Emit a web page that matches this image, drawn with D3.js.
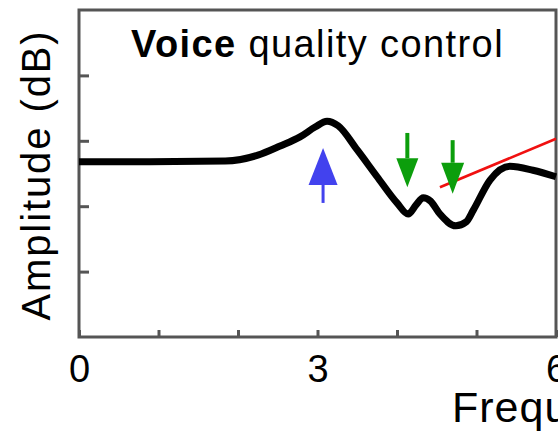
<!DOCTYPE html>
<html><head><meta charset="utf-8">
<script src="https://cdn.jsdelivr.net/npm/d3@7"></script>
<style>
html,body{margin:0;padding:0;background:#fff;overflow:hidden;}
svg{display:block;font-family:"Liberation Sans",Arial,Helvetica,sans-serif;}
</style></head>
<body><svg id="chart" width="558" height="433"></svg>
<script>
// ---- data ----
const freq = [0, 0.89, 1.84, 2.25, 2.53, 2.78, 2.97, 3.12, 3.26, 3.50, 3.75, 4.00, 4.14, 4.24, 4.33, 4.42, 4.54, 4.74, 4.87, 4.96, 5.17, 5.42, 5.71, 6.00];
const amp  = [2.68, 2.68, 2.69, 2.78, 2.92, 3.06, 3.21, 3.30, 3.23, 2.86, 2.45, 2.05, 1.88, 2.02, 2.13, 2.08, 1.88, 1.70, 1.76, 1.94, 2.40, 2.61, 2.55, 2.45];
const xTickValues = [0, 1, 2, 3, 4, 5, 6];
const xTickLabels = ["0", "", "", "3", "", "", "6"];
const yTickValues = [1, 2, 3, 4];
const redLineX = [4.54, 6.0];
const redLineY = [2.29, 3.03];
const arrowX    = [3.07, 4.13, 4.70];
const arrowTip  = [2.89, 2.29, 2.19];
const arrowTail = [2.05, 3.12, 3.01];
const arrowColor = ["#4242ee", "#0c9e0c", "#0c9e0c"];
const titleBold = "Voice";
const titleRest = " quality control";
const xLabel = "Frequency (kHz)";
const yLabel = "Amplitude (dB)";

// ---- layout ----
const svg = d3.select("#chart");
const mL = 79, mR = 556, mT = 10, mB = 337;
const x = d3.scaleLinear().domain([0, 6]).range([mL, mR]);
const y = d3.scaleLinear().domain([0, 5]).range([mB, mT]);
const axisColor = "#555";

// frame
svg.append("rect").attr("x", mL).attr("y", mT)
  .attr("width", mR - mL).attr("height", mB - mT)
  .attr("fill", "none").attr("stroke", axisColor).attr("stroke-width", 3);

// x ticks (inside)
const xAxis = d3.axisBottom(x).tickValues(xTickValues).tickSizeInner(-7).tickSizeOuter(0)
  .tickFormat((d, i) => xTickLabels[i]);
const gx = svg.append("g").attr("transform", `translate(0,${mB})`).call(xAxis);
gx.select(".domain").remove();
gx.selectAll(".tick line").attr("stroke", axisColor).attr("stroke-width", 3);
gx.selectAll(".tick text").attr("font-size", 38).attr("fill", "#000")
  .attr("font-family", "Liberation Sans, Arial, sans-serif").attr("dy", "0.71em").attr("y", 18);

// y ticks (inside, no labels)
const yAxis = d3.axisLeft(y).tickValues(yTickValues).tickSizeInner(-10).tickSizeOuter(0).tickFormat("");
const gy = svg.append("g").attr("transform", `translate(${mL},0)`).call(yAxis);
gy.select(".domain").remove();
gy.selectAll(".tick line").attr("stroke", axisColor).attr("stroke-width", 3);

// red line
svg.append("line")
  .attr("x1", x(redLineX[0])).attr("y1", y(redLineY[0]))
  .attr("x2", x(redLineX[1])).attr("y2", y(redLineY[1]))
  .attr("stroke", "#f01010").attr("stroke-width", 2.7);

// curve
const pts = freq.map((f, i) => [f, amp[i]]);
const line = d3.line().x(d => x(d[0])).y(d => y(d[1])).curve(d3.curveMonotoneX);
svg.append("path").attr("d", line(pts)).attr("fill", "none")
  .attr("stroke", "#000").attr("stroke-width", 7).attr("stroke-linejoin", "round");

// arrows
const headLen = [37, 29, 31], headHalf = [14.5, 11, 11.5], shaftW = [3, 4, 4];
arrowX.forEach((ax, i) => {
  const px = x(ax), tipY = y(arrowTip[i]), tailY = y(arrowTail[i]);
  const dir = tailY > tipY ? 1 : -1;
  const baseY = tipY + dir * headLen[i];
  svg.append("line").attr("x1", px).attr("x2", px).attr("y1", tailY).attr("y2", baseY)
    .attr("stroke", arrowColor[i]).attr("stroke-width", shaftW[i]);
  svg.append("path")
    .attr("d", `M${px},${tipY}L${px - headHalf[i]},${baseY}L${px + headHalf[i]},${baseY}Z`)
    .attr("fill", arrowColor[i]);
});

// title
const t = svg.append("text").attr("x", 131).attr("y", 57).attr("font-size", 38)
  .attr("fill", "#000").attr("letter-spacing", 1.4);
t.append("tspan").attr("font-weight", "bold").text(titleBold);
t.append("tspan").text(titleRest);

// x label
svg.append("text").attr("x", 452).attr("y", 422).attr("font-size", 43)
  .attr("fill", "#000").attr("letter-spacing", 1).text(xLabel);

// y label
svg.append("text").attr("transform", "translate(50,175) rotate(-90)")
  .attr("text-anchor", "middle").attr("font-size", 40).attr("letter-spacing", 1.9)
  .attr("fill", "#000").text(yLabel);
</script></body></html>
